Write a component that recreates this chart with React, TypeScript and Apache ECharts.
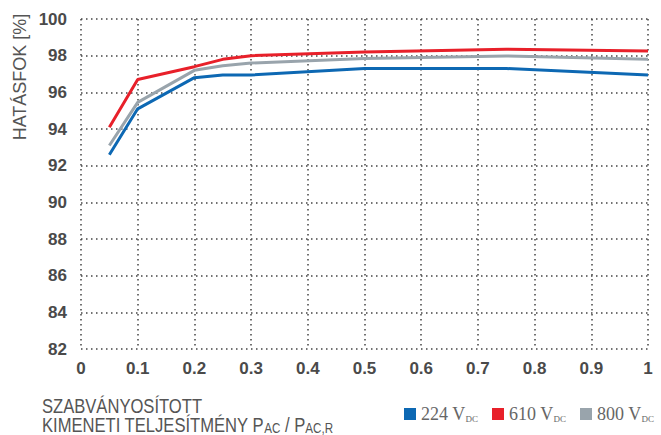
import React, { useEffect, useRef } from "react";
import * as echarts from "echarts";

const xValues = [0.05, 0.1, 0.2, 0.25, 0.3, 0.5, 0.75, 1];
const seriesNames = ["224 V", "610 V", "800 V"];
const v224 = [92.6, 95.1, 96.8, 96.95, 96.95, 97.3, 97.3, 96.95];
const v610 = [94.1, 96.7, 97.4, 97.8, 98.0, 98.2, 98.35, 98.25];
const v800 = [93.1, 95.45, 97.2, 97.45, 97.6, 97.85, 97.98, 97.8];
const colors = ["#0d68b3", "#e8202a", "#99a4ac"];
const yName = "HATÁSFOK [%]";
const xNameLine1 = "SZABVÁNYOSÍTOTT";

export default function App() {
  const ref = useRef<HTMLDivElement>(null);
  useEffect(() => {
    if (!ref.current) return;
    const chart = echarts.init(ref.current, undefined, { renderer: "svg" });
    const labelFont = "'Liberation Sans', Arial, sans-serif";
    const serif = "'Liberation Serif', 'Times New Roman', serif";
    const split = { show: true, lineStyle: { color: "#444", width: 1.5, type: [1.5, 3.5] as any } };
    const mk = (name: string, vals: number[], color: string) => ({
      name,
      type: "line",
      data: xValues.map((x, i) => [x, vals[i]]),
      showSymbol: false,
      symbol: "none",
      lineStyle: { color, width: 3 },
      itemStyle: { color },
      z: 3,
    });
    chart.setOption({
      animation: false,
      grid: { left: 81, right: 13, top: 19, bottom: 86 },
      xAxis: {
        type: "value",
        min: 0,
        max: 1,
        interval: 0.1,
        axisLine: { show: false },
        axisTick: { show: false },
        splitLine: split,
        axisLabel: { color: "#4a4a4a", fontSize: 17, fontWeight: "bold", fontFamily: labelFont, margin: 11 },
      },
      yAxis: {
        type: "value",
        min: 82,
        max: 100,
        interval: 2,
        axisLine: { show: false },
        axisTick: { show: false },
        splitLine: split,
        axisLabel: { color: "#4a4a4a", fontSize: 17, fontWeight: "bold", fontFamily: labelFont, margin: 14 },
      },
      legend: {
        left: 404,
        top: 405,
        width: 300,
        padding: 0,
        icon: "rect",
        itemWidth: 12,
        itemHeight: 12,
        itemGap: 14,
        data: seriesNames,
        formatter: (n: string) => `{v|${n}}{s|DC}`,
        textStyle: {
          color: "#666",
          fontFamily: serif,
          fontSize: 18,
          rich: {
            v: { fontSize: 18, fontFamily: serif, color: "#666" },
            s: { fontSize: 9, fontFamily: serif, color: "#666", verticalAlign: "bottom" },
          },
        },
      },
      graphic: [
        {
          type: "text",
          x: 20,
          y: 77,
          rotation: Math.PI / 2,
          style: {
            text: yName,
            fill: "#555",
            font: `18px ${labelFont}`,
            align: "center",
            verticalAlign: "middle",
          },
        },
        {
          type: "text",
          x: 42,
          y: 405.5,
          scaleX: 0.83,
          style: {
            text: xNameLine1,
            fill: "#555",
            font: `20px ${labelFont}`,
            align: "left",
            verticalAlign: "middle",
          },
        },
        {
          type: "text",
          x: 42,
          y: 425,
          scaleX: 0.83,
          style: {
            text: "{a|KIMENETI TELJESÍTMÉNY P}{b|AC}{a| / P}{b|AC,R}",
            fill: "#555",
            font: `20px ${labelFont}`,
            align: "left",
            verticalAlign: "middle",
            rich: {
              a: { fontSize: 20, fontFamily: labelFont, fill: "#555", lineHeight: 20 },
              b: { fontSize: 14, fontFamily: labelFont, fill: "#555", lineHeight: 20, verticalAlign: "bottom" },
            },
          },
        },
      ],
      series: [mk(seriesNames[0], v224, colors[0]), mk(seriesNames[1], v610, colors[1]), mk(seriesNames[2], v800, colors[2])],
    });
    return () => chart.dispose();
  }, []);
  return <div ref={ref} style={{ width: 661, height: 435, position: "absolute", left: 0, top: 0 }} />;
}
